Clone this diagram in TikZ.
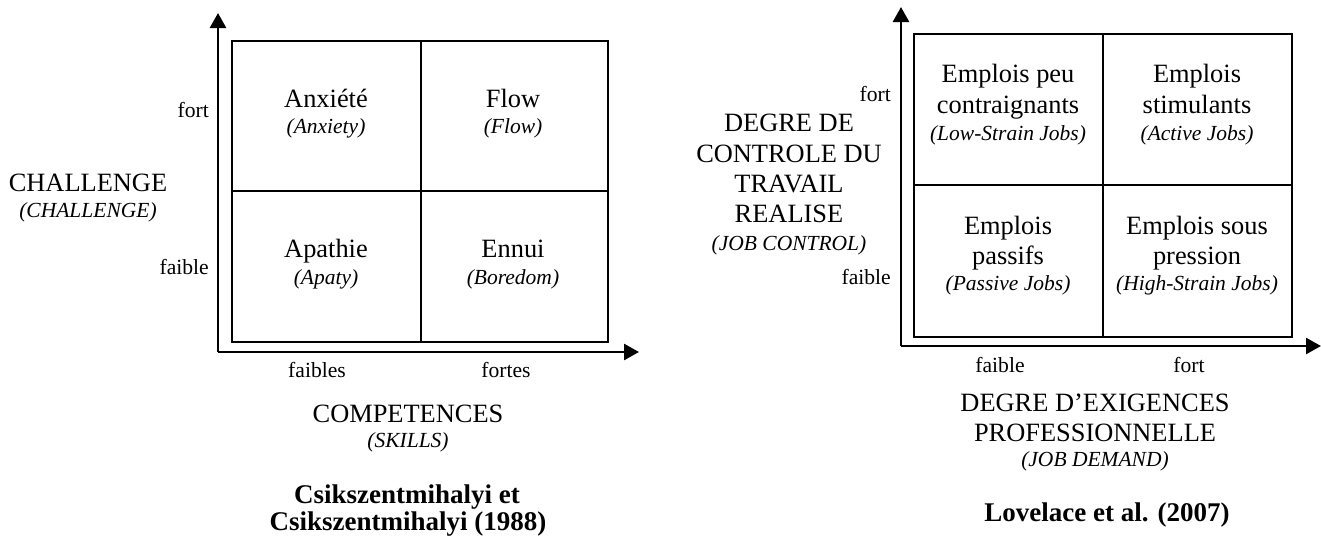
\documentclass[tikz,border=0pt]{standalone}
\usepackage{fontspec}
\setmainfont{Liberation Serif}
\usetikzlibrary{arrows.meta}
\begin{document}
\begin{tikzpicture}[x=1pt,y=-1pt,
  big/.style={font=\fontsize{26.4}{31}\selectfont,inner sep=0pt,anchor=base},
  ital/.style={font=\fontsize{21.5}{26}\selectfont\itshape,inner sep=0pt,anchor=base},
  small/.style={font=\fontsize{21.6}{26}\selectfont,inner sep=0pt,anchor=base},
  ttl/.style={font=\fontsize{27}{32}\selectfont\bfseries,inner sep=0pt,anchor=base},
  axis/.style={line width=2.6pt,-{Triangle[length=15pt,width=16pt]}},
  grid/.style={line width=1.8pt}]
\useasboundingbox (0,0) rectangle (1321,541);

% ---------- Left diagram ----------
\coordinate (Lo) at (218,352);
\coordinate (Ly) at (218,13);
\coordinate (Lx) at (639,352);
\draw[axis] (Lo) -- (Ly);
\draw[axis] (Lo) -- (Lx);
\draw[grid] (232,41) rectangle (608,342);
\draw[grid] (421,41) -- (421,342);
\draw[grid] (232,191) -- (608,191);

\node[big] (anx) at (326,107) {Anxiété};
\node[ital] (anxe) at (326,133) {(Anxiety)};
\node[big] (flow) at (513,107) {Flow};
\node[ital] (flowe) at (513,133) {(Flow)};
\node[big] (apa) at (326,257) {Apathie};
\node[ital] (apae) at (326,284) {(Apaty)};
\node[big] (ennui) at (513,257) {Ennui};
\node[ital] (ennuie) at (513,284) {(Boredom)};

\node[small,anchor=base east] (lfort) at (209,117) {fort};
\node[small,anchor=base east] (lfaible) at (209,274) {faible};
\node[big] (chal) at (88,191) {CHALLENGE};
\node[ital] (chale) at (88,217) {(CHALLENGE)};

\node[small] (lfaibles) at (317,377) {faibles};
\node[small] (lfortes) at (506,377) {fortes};
\node[big] (comp) at (408,422) {COMPETENCES};
\node[ital] (compe) at (408,447) {(SKILLS)};
\node[ttl] (t1a) at (407,503) {Csikszentmihalyi et};
\node[ttl] (t1b) at (408,530) {Csikszentmihalyi (1988)};

% ---------- Right diagram ----------
\coordinate (Ro) at (901,346);
\coordinate (Ry) at (901,7);
\coordinate (Rx) at (1321,346);
\draw[axis] (Ro) -- (Ry);
\draw[axis] (Ro) -- (Rx);
\draw[grid] (914,34) rectangle (1292,337);
\draw[grid] (1103,34) -- (1103,337);
\draw[grid] (914,185) -- (1292,185);

\node[big] (c1a) at (1008,82) {Emplois peu};
\node[big] (c1b) at (1008,113) {contraignants};
\node[ital] (c1c) at (1008,140) {(Low-Strain Jobs)};
\node[big] (c2a) at (1197,82) {Emplois};
\node[big] (c2b) at (1197,113) {stimulants};
\node[ital] (c2c) at (1197,140) {(Active Jobs)};
\node[big] (c3a) at (1008,234) {Emplois};
\node[big] (c3b) at (1008,264) {passifs};
\node[ital] (c3c) at (1008,290) {(Passive Jobs)};
\node[big] (c4a) at (1197,234) {Emplois sous};
\node[big] (c4b) at (1197,264) {pression};
\node[ital] (c4c) at (1197,290) {(High-Strain Jobs)};

\node[small,anchor=base east] (rfort) at (891,101) {fort};
\node[small,anchor=base east] (rfaible) at (891,284) {faible};
\node[big] (dc1) at (789,131) {DEGRE DE};
\node[big] (dc2) at (789,162) {CONTROLE DU};
\node[big] (dc3) at (789,192) {TRAVAIL};
\node[big] (dc4) at (789,222) {REALISE};
\node[ital] (dc5) at (789,250) {(JOB CONTROL)};

\node[small] (rfaiblex) at (1000,372) {faible};
\node[small] (rfortx) at (1189,372) {fort};
\node[big] (de1) at (1095,411) {DEGRE D’EXIGENCES};
\node[big] (de2) at (1095,441) {PROFESSIONNELLE};
\node[ital] (de3) at (1095,466) {(JOB DEMAND)};
\node[ttl] (t2) at (1107,521) {Lovelace et al. (2007)};
\end{tikzpicture}
\end{document}
